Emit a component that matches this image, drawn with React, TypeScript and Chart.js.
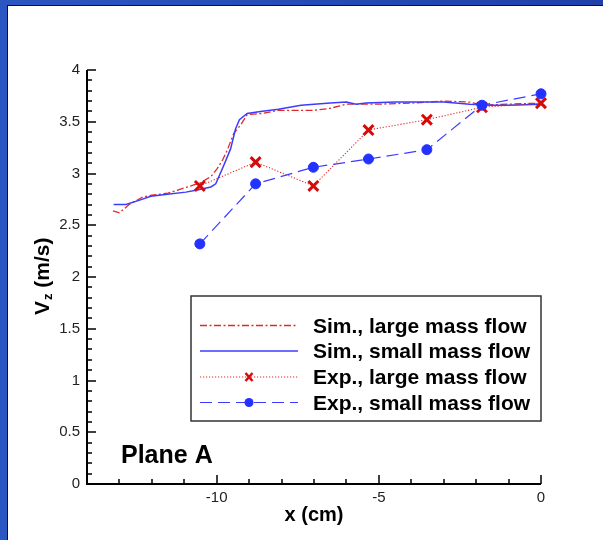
import { useEffect, useRef } from 'react';
import { Chart, registerables } from 'chart.js';

Chart.register(...registerables);

// ---------- data ----------
const simLargeX = [-13.2, -13.0, -12.7, -12.3, -12.0, -11.5, -10.9, -10.5, -10.18, -9.98, -9.82, -9.67, -9.47, -9.26, -9.06, -8.6, -8.1, -7.5, -7.0, -6.5, -6.0, -5.0, -4.0, -3.0, -2.2, -1.8, -1.0, 0];
const simLargeY = [2.64, 2.62, 2.70, 2.77, 2.79, 2.81, 2.87, 2.91, 2.97, 3.05, 3.13, 3.23, 3.39, 3.47, 3.57, 3.58, 3.61, 3.61, 3.61, 3.63, 3.67, 3.67, 3.68, 3.70, 3.69, 3.66, 3.67, 3.68];

const simSmallX = [-13.18, -12.8, -12.4, -12.03, -11.52, -10.95, -10.6, -10.18, -10.03, -9.78, -9.57, -9.42, -9.3, -9.06, -8.65, -8.1, -7.4, -6.5, -6.0, -5.7, -5.4, -4.5, -3.8, -3.0, -2.2, -1.5, -1.0, 0];
const simSmallY = [2.70, 2.70, 2.74, 2.78, 2.80, 2.82, 2.84, 2.87, 2.90, 3.08, 3.24, 3.43, 3.52, 3.58, 3.60, 3.62, 3.66, 3.68, 3.69, 3.67, 3.68, 3.69, 3.69, 3.69, 3.67, 3.66, 3.66, 3.67];

const expX = [-10.52, -8.8, -7.02, -5.32, -3.52, -1.82, 0];
const expLargeY = [2.88, 3.11, 2.88, 3.42, 3.52, 3.64, 3.68];
const expSmallY = [2.32, 2.90, 3.06, 3.14, 3.23, 3.66, 3.77];

const seriesLabels = [
  'Sim., large mass flow',
  'Sim., small mass flow',
  'Exp., large mass flow',
  'Exp., small mass flow',
];

const xMajorTicks = [-10, -5, 0];
const xMinorTicks = [-13, -12, -11, -9, -8, -7, -6, -4, -3, -2, -1];
const yMajorTicks = [0, 0.5, 1, 1.5, 2, 2.5, 3, 3.5, 4];
const yMinorTicks = [
  0.1, 0.2, 0.3, 0.4, 0.6, 0.7, 0.8, 0.9, 1.1, 1.2, 1.3, 1.4, 1.6, 1.7, 1.8, 1.9,
  2.1, 2.2, 2.3, 2.4, 2.6, 2.7, 2.8, 2.9, 3.1, 3.2, 3.3, 3.4, 3.6, 3.7, 3.8, 3.9,
];

const RED = 'rgb(215,10,10)';
const RED_LINE = 'rgb(225,40,40)';
const BLUE = 'rgb(35,50,255)';
const BLUE_LINE = 'rgb(60,60,255)';
const FONT = "'Liberation Sans', Arial, sans-serif";

const legendStyles = [
  { color: RED_LINE, width: 1.3, dash: [7, 2.5, 2, 2.5], marker: '' },
  { color: BLUE_LINE, width: 1.5, dash: [] as number[], marker: '' },
  { color: RED_LINE, width: 1.1, dash: [1.2, 1.8], marker: 'x' },
  { color: BLUE_LINE, width: 1.2, dash: [12, 6], marker: 'o' },
];

const pts = (xs: number[], ys: number[]) => xs.map((x, i) => ({ x, y: ys[i] }));

const axesPlugin = {
  id: 'axesPlugin',
  beforeDatasetsDraw(chart: any) {
    const { ctx, chartArea } = chart;
    const xs = chart.scales.x;
    const ys = chart.scales.y;
    ctx.save();
    ctx.strokeStyle = '#000';
    ctx.lineWidth = 2;
    ctx.beginPath();
    ctx.moveTo(chartArea.left, chartArea.top);
    ctx.lineTo(chartArea.left, chartArea.bottom);
    ctx.lineTo(chartArea.right, chartArea.bottom);
    ctx.stroke();
    ctx.lineWidth = 1.5;
    ctx.beginPath();
    for (const v of xMajorTicks) {
      const p = Math.round(xs.getPixelForValue(v));
      ctx.moveTo(p, chartArea.bottom);
      ctx.lineTo(p, chartArea.bottom - 9);
    }
    for (const v of xMinorTicks) {
      const p = Math.round(xs.getPixelForValue(v));
      ctx.moveTo(p, chartArea.bottom);
      ctx.lineTo(p, chartArea.bottom - 5);
    }
    for (const v of yMajorTicks) {
      const p = Math.round(ys.getPixelForValue(v));
      ctx.moveTo(chartArea.left, p);
      ctx.lineTo(chartArea.left + 9, p);
    }
    for (const v of yMinorTicks) {
      const p = Math.round(ys.getPixelForValue(v));
      ctx.moveTo(chartArea.left, p);
      ctx.lineTo(chartArea.left + 5, p);
    }
    ctx.stroke();
    ctx.restore();
  },
  afterDraw(chart: any) {
    const { ctx, chartArea } = chart;
    ctx.save();
    // axis titles
    ctx.fillStyle = '#000';
    ctx.font = `bold 20px ${FONT}`;
    ctx.textAlign = 'center';
    ctx.textBaseline = 'alphabetic';
    ctx.fillText('x (cm)', (chartArea.left + chartArea.right) / 2, 521);

    const midY = (chartArea.top + chartArea.bottom) / 2;
    ctx.translate(49, midY + 38);
    ctx.rotate(-Math.PI / 2);
    ctx.textAlign = 'left';
    ctx.font = `bold 21px ${FONT}`;
    ctx.fillText('V', 0, 0);
    let off = ctx.measureText('V').width;
    ctx.font = `bold 13px ${FONT}`;
    ctx.fillText('z', off + 1, 3);
    off += ctx.measureText('z').width + 1;
    ctx.font = `bold 21px ${FONT}`;
    ctx.fillText(' (m/s)', off, 0);
    ctx.setTransform(1, 0, 0, 1, 0, 0);

    // Plane A label
    ctx.font = `bold 25px ${FONT}`;
    ctx.textAlign = 'left';
    ctx.fillText('Plane A', 121, 463);

    // legend
    const bx = 191, by = 296, bw = chartArea.right - 191, bh = 125;
    ctx.fillStyle = '#fff';
    ctx.fillRect(bx, by, bw, bh);
    ctx.strokeStyle = '#333';
    ctx.lineWidth = 1.5;
    ctx.strokeRect(bx, by, bw, bh);
    const rows = [325.5, 351, 377, 402.5];
    chart.data.datasets.forEach((ds: any, i: number) => {
      const y = rows[i];
      const st = legendStyles[i];
      ctx.save();
      ctx.strokeStyle = st.color;
      ctx.lineWidth = st.width;
      ctx.setLineDash(st.dash);
      ctx.beginPath();
      ctx.moveTo(200, y);
      ctx.lineTo(298, y);
      ctx.stroke();
      ctx.setLineDash([]);
      if (st.marker === 'x') {
        ctx.strokeStyle = RED;
        ctx.lineWidth = 2.5;
        ctx.beginPath();
        ctx.moveTo(245.5, y - 4);
        ctx.lineTo(252.5, y + 4);
        ctx.moveTo(252.5, y - 4);
        ctx.lineTo(245.5, y + 4);
        ctx.stroke();
      } else if (st.marker === 'o') {
        ctx.fillStyle = BLUE;
        ctx.beginPath();
        ctx.arc(249, y, 4.5, 0, Math.PI * 2);
        ctx.fill();
      }
      ctx.restore();
      ctx.fillStyle = '#000';
      ctx.font = `bold 21px ${FONT}`;
      ctx.textAlign = 'left';
      ctx.textBaseline = 'alphabetic';
      ctx.fillText(ds.label, 313, y + 7.3);
    });
    ctx.restore();
  },
};

export default function App() {
  const ref = useRef<HTMLCanvasElement>(null);
  useEffect(() => {
    const canvas = ref.current!;
    const chart = new Chart(canvas, {
      type: 'line',
      data: {
        datasets: [
          {
            label: seriesLabels[0],
            data: pts(simLargeX, simLargeY),
            borderColor: RED_LINE,
            borderWidth: 1.3,
            borderDash: [7, 2.5, 2, 2.5],
            pointRadius: 0,
            tension: 0,
            fill: false,
            order: 3,
          },
          {
            label: seriesLabels[1],
            data: pts(simSmallX, simSmallY),
            borderColor: BLUE_LINE,
            borderWidth: 1.5,
            pointRadius: 0,
            tension: 0,
            fill: false,
            order: 2,
          },
          {
            label: seriesLabels[2],
            data: pts(expX, expLargeY),
            borderColor: RED_LINE,
            borderWidth: 1.1,
            borderDash: [1.2, 1.8],
            pointStyle: 'crossRot',
            pointRadius: 7,
            pointBorderWidth: 3,
            pointBorderColor: RED,
            pointBackgroundColor: RED,
            tension: 0,
            fill: false,
            order: 1,
          },
          {
            label: seriesLabels[3],
            data: pts(expX, expSmallY),
            borderColor: BLUE_LINE,
            borderWidth: 1.2,
            borderDash: [12, 6],
            pointStyle: 'circle',
            pointRadius: 5,
            pointBorderWidth: 1,
            pointBorderColor: BLUE,
            pointBackgroundColor: BLUE,
            tension: 0,
            fill: false,
            order: 0,
          },
        ] as any,
      },
      options: {
        responsive: false,
        animation: false,
        clip: false as any,
        layout: { padding: { left: 60, top: 70, right: 62, bottom: 0 } },
        plugins: { legend: { display: false }, tooltip: { enabled: false } },
        scales: {
          x: {
            type: 'linear',
            min: -14,
            max: 0,
            grid: { display: false, drawTicks: false },
            border: { display: false },
            afterBuildTicks: (s: any) => {
              s.ticks = xMajorTicks.map((v) => ({ value: v }));
            },
            afterFit: (s: any) => {
              s.height = 56;
            },
            ticks: {
              autoSkip: false,
              maxRotation: 0,
              padding: 5,
              color: '#222',
              font: { family: FONT, size: 15 },
              callback: (v: any) => String(v),
            },
          },
          y: {
            type: 'linear',
            min: 0,
            max: 4,
            grid: { display: false, drawTicks: false },
            border: { display: false },
            afterBuildTicks: (s: any) => {
              s.ticks = yMajorTicks.map((v) => ({ value: v }));
            },
            afterFit: (s: any) => {
              s.width = 27;
            },
            ticks: {
              autoSkip: false,
              padding: 7,
              color: '#222',
              font: { family: FONT, size: 15 },
              callback: (v: any) => String(v),
            },
          },
        },
      },
      plugins: [axesPlugin],
    });
    return () => chart.destroy();
  }, []);

  return (
    <div
      style={{
        position: 'fixed',
        left: 0,
        top: 0,
        width: 603,
        height: 540,
        background: 'linear-gradient(90deg, #2b57c2, #1f40aa)',
        overflow: 'hidden',
      }}
    >
      <div
        style={{
          position: 'absolute',
          left: 7,
          top: 5,
          right: 0,
          bottom: 0,
          background: '#fff',
          borderLeft: '1px solid #111',
          borderTop: '1px solid #111',
        }}
      />
      <canvas
        ref={ref}
        width={603}
        height={540}
        style={{ position: 'absolute', left: 0, top: 0, width: 603, height: 540 }}
      />
    </div>
  );
}
